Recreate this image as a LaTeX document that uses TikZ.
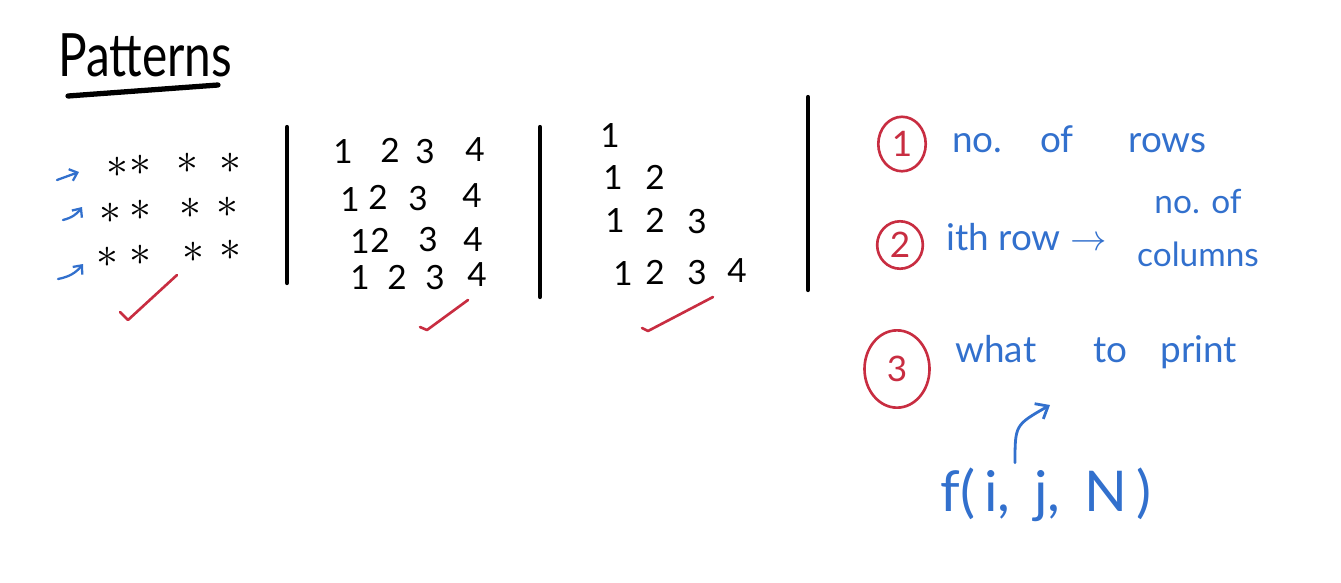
\documentclass[tikz,border=0pt]{standalone}
\usepackage{fontspec}
\setmainfont{Lato}
\usetikzlibrary{arrows.meta,shapes.geometric}
\definecolor{inkblue}{RGB}{50,112,205}
\definecolor{inkred}{RGB}{200,45,65}
\tikzset{
  ink/.style={line width=2.4pt, line cap=round, black},
  starnode/.style={font=\fontsize{30}{30}\selectfont, inner sep=0pt},
  num/.style={font=\fontsize{19}{22}\selectfont, inner sep=0pt},
  bluetxt/.style={text=inkblue, font=\fontsize{21}{24}\selectfont, inner sep=0pt},
  tickmark/.style={inkred, line width=1.5pt, line cap=round, line join=round},
  rowarrow/.style={inkblue, line width=1.3pt, line cap=round, -{Straight Barb[length=4pt,width=7pt]}},
  numcirc/.style={ellipse, draw=inkred, line width=1.5pt, text=inkred, font=\fontsize{20}{22}\selectfont, inner sep=0pt},
}
\begin{document}
\begin{tikzpicture}[x=0.02cm,y=-0.02cm]
\useasboundingbox (0,0) rectangle (1341,582);
% title
\node[font=\fontsize{34}{36}\selectfont, inner sep=0pt, xscale=0.8] (title) at (145,55) {Patterns};
\coordinate (ulA) at (68,96);
\coordinate (ulB) at (218,85);
\draw[ink, line width=3pt] (ulA) -- (ulB);
% vertical separators
\coordinate (s1t) at (287,127); \coordinate (s1b) at (287,283);
\coordinate (s2t) at (540,127); \coordinate (s2b) at (540,297);
\coordinate (s3t) at (808,97);  \coordinate (s3b) at (808,290);
\draw[ink] (s1t) -- (s1b);
\draw[ink] (s2t) -- (s2b);
\draw[ink] (s3t) -- (s3b);
% stars
\foreach \x/\y [count=\i] in {117/167,140/165,187/163,230/163,
                              110/213,140/210,190/208,227/207,
                              107/257,140/255,193/252,230/250}
  \node[starnode] (st\i) at (\x,\y) {$\ast$};
\coordinate (a1s) at (57,180); \coordinate (a1e) at (79,172);
\coordinate (a2s) at (63,220); \coordinate (a2e) at (82,207);
\coordinate (a3s) at (58,279); \coordinate (a3e) at (83,264);
\draw[rowarrow] (a1s) -- (a1e);
\draw[rowarrow] (a2s) to[bend right=20] (a2e);
\draw[rowarrow] (a3s) to[bend right=20] (a3e);
\coordinate (c1a) at (120,312); \coordinate (c1b) at (128,320); \coordinate (c1c) at (177,275);
\draw[tickmark] (c1a) -- (c1b) -- (c1c);
% grid 2
\foreach \t/\x/\y [count=\i] in {1/343/152,2/390/150,3/425/152,4/475/150,
                                 1/350/200,2/378/197,3/418/199,4/472/196,
                                 1/360/242,2/380/240,3/428/240,4/473/240,
                                 1/360/278,2/397/277,3/435/278,4/477/275}
  \node[num] (g\i) at (\x,\y) {\t};
\coordinate (c2a) at (420,327); \coordinate (c2b) at (427,330); \coordinate (c2c) at (468,300);
\draw[tickmark] (c2a) -- (c2b) -- (c2c);
% grid 3
\foreach \t/\x/\y [count=\i] in {1/610/136,
                                 1/613/178,2/655/177,
                                 1/615/221,2/655/220,3/697/222,
                                 1/623/274,2/655/272,3/697/273,4/737/271}
  \node[num] (h\i) at (\x,\y) {\t};
\coordinate (c3a) at (642,328); \coordinate (c3b) at (648,331); \coordinate (c3c) at (713,297);
\draw[tickmark] (c3a) -- (c3b) -- (c3c);
% right side: steps
\node[numcirc, minimum width=27pt, minimum height=31pt] (n1) at (902,144) {1};
\node[numcirc, minimum width=26pt, minimum height=27pt] (n2) at (900,245) {2};
\node[numcirc, minimum width=37pt, minimum height=44pt] (n3) at (897,369) {3};
\node[bluetxt, anchor=base west] (t1a) at (952,152) {no.};
\node[bluetxt, anchor=base west] (t1b) at (1040,152) {of};
\node[bluetxt, anchor=base west] (t1c) at (1128,152) {rows};
\node[bluetxt, anchor=base west] (t2) at (946,250) {ith row $\rightarrow$};
\node[bluetxt, align=center, font=\fontsize{19}{30}\selectfont] (t2b) at (1198,228) {no. of\\columns};
\node[bluetxt, anchor=base west] (w1) at (955,362) {what};
\node[bluetxt, anchor=base west] (w2) at (1093,362) {to};
\node[bluetxt, anchor=base west] (w3) at (1160,362) {print};
\node[bluetxt, font=\fontsize{32}{36}\selectfont, anchor=west] (fx) at (940,495) {f(\,i,\, j,\, N\,)};
\draw[inkblue, line width=1.6pt, line cap=round, -{Straight Barb[length=6pt,width=10pt]}]
  (fx.north -| 1015,0) ++(0,-5) coordinate (fa) .. controls (1015,425) .. (1050,405) coordinate (fb);
\end{tikzpicture}
\end{document}
